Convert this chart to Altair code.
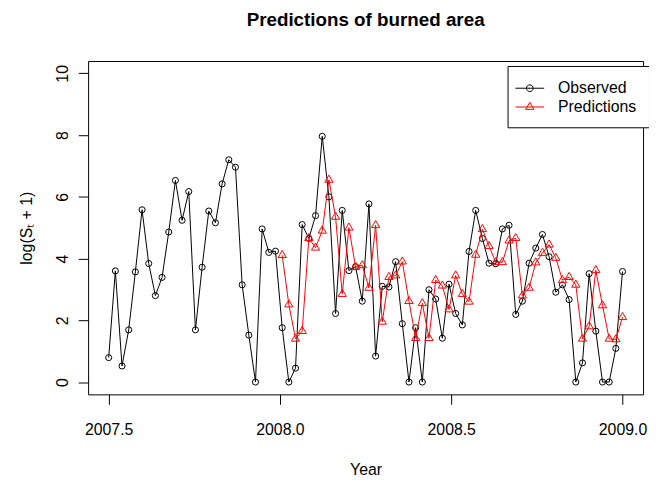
import altair as alt
import pandas as pd

# ---- data ----
obs = [0.79, 3.60, 0.52, 1.69, 3.57, 5.58, 3.84, 2.80, 3.39, 4.86,
       6.53, 5.24, 6.17, 1.69, 3.72, 5.54, 5.16, 6.42, 7.20, 6.96,
       3.15, 1.52, 0.00, 4.96, 4.20, 4.24, 1.76, 0.00, 0.45, 5.10,
       4.65, 5.39, 7.96, 6.00, 2.22, 5.56, 3.61, 3.74, 2.62, 5.77,
       0.84, 3.10, 3.08, 3.90, 1.89, 0.00, 1.76, 0.00, 2.99, 2.69,
       1.42, 3.17, 2.22, 1.85, 4.23, 5.56, 4.65, 3.85, 3.83, 4.96,
       5.08, 2.19, 2.62, 3.85, 4.34, 4.78, 4.06, 2.91, 3.15, 2.67,
       0.00, 0.62, 3.51, 1.65, 0.00, 0.00, 1.09, 3.58]
pred = [4.11, 2.51, 1.40, 1.65, 4.66, 4.35, 4.90, 6.55, 5.35, 2.85,
        5.00, 3.72, 3.78, 3.05, 5.08, 1.95, 3.40, 3.45, 3.90, 2.62,
        1.42, 2.55, 1.42, 3.30, 3.12, 2.35, 3.45, 2.85, 2.60, 4.12,
        4.95, 4.40, 3.88, 3.88, 4.58, 4.66, 2.80, 3.05, 3.87, 4.18,
        4.45, 4.02, 3.30, 3.40, 3.15, 1.40, 1.80, 3.62, 2.48, 1.40,
        1.38, 2.10]
pred_start = 26
start_year = 2007.5
end_year = 2009.0
series_names = ["Observed", "Predictions"]
series_colors = ["black", "red"]
x_ticks = [2007.5, 2008.0, 2008.5, 2009.0]
y_ticks = [0, 2, 4, 6, 8, 10]

n = len(obs)
years = [start_year + k * (end_year - start_year) / (n - 1) for k in range(n)]
df_obs = pd.DataFrame({"Year": years, "value": obs})
df_pred = pd.DataFrame({"Year": years[pred_start:], "value": pred})
df_leg = pd.DataFrame({"series": series_names})

FONT = "Liberation Sans"
TRI = "M0,-1.155L1,0.577L-1,0.577Z"
LEG_CIRCLE = "M-1.487,0H1.487M-0.349,0A0.349,0.349 0 1,0 0.349,0A0.349,0.349 0 1,0 -0.349,0"
LEG_TRI = "M-1.487,0H1.487M0,-0.491L0.426,0.246L-0.426,0.246Z"

xs = alt.Scale(domain=[2007.44, 2009.06], nice=False, zero=False)
ys = alt.Scale(domain=[-0.4, 10.4], nice=False, zero=False)

xax = alt.Axis(values=x_ticks, format=".1f", title="Year", grid=False, domain=False,
               tickSize=10, tickColor="black", labelColor="black", labelFont=FONT,
               labelFontSize=16, labelPadding=31, labelBaseline="alphabetic",
               titleFont=FONT, titleFontSize=16, titleFontWeight="normal",
               titleColor="black", titlePadding=24)
yax = alt.Axis(values=y_ticks, title="log(S\u209c + 1)", grid=False, domain=False,
               tickSize=10, tickColor="black", labelColor="black", labelFont=FONT,
               labelFontSize=16, labelAngle=270, labelAlign="center",
               labelBaseline="alphabetic", labelPadding=11,
               titleFont=FONT, titleFontSize=16, titleFontWeight="normal",
               titleColor="black", titlePadding=20)

x_enc = alt.X("Year:Q", scale=xs, axis=xax)
y_enc = alt.Y("value:Q", scale=ys, axis=yax)

obs_line = alt.Chart(df_obs).mark_line(color="black", strokeWidth=1).encode(x=x_enc, y=y_enc)
obs_pts = alt.Chart(df_obs).mark_point(shape="circle", size=38, filled=False,
                                       color="black", strokeWidth=1, opacity=1).encode(x=x_enc, y=y_enc)
pred_line = alt.Chart(df_pred).mark_line(color="red", strokeWidth=1).encode(x=x_enc, y=y_enc)
pred_pts = alt.Chart(df_pred).mark_point(shape=TRI, size=69, filled=False,
                                         color="red", strokeWidth=1, opacity=1).encode(x=x_enc, y=y_enc)

legend = alt.Legend(title=None, orient="none", legendX=424, legendY=5,
                    strokeColor="black", fillColor="white", padding=12,
                    cornerRadius=0, labelFont=FONT, labelFontSize=16,
                    labelColor="black", labelOffset=18, rowPadding=0,
                    symbolSize=380, symbolStrokeWidth=1, symbolOpacity=1,
                    symbolFillColor="transparent")
leg_layer = alt.Chart(df_leg).mark_point(filled=False, opacity=0).encode(
    x=alt.value(0), y=alt.value(0),
    color=alt.Color("series:N", scale=alt.Scale(domain=series_names, range=series_colors), legend=legend),
    shape=alt.Shape("series:N", scale=alt.Scale(domain=series_names, range=[LEG_CIRCLE, LEG_TRI]), legend=legend),
)

chart = alt.layer(obs_line, obs_pts, pred_line, pred_pts, leg_layer).properties(
    width=561, height=337,
    autosize="none",
    padding={"left": 81, "top": 51, "right": 6, "bottom": 88},
    title=alt.TitleParams("Predictions of burned area", font=FONT, fontSize=19,
                          fontWeight="bold", color="black", anchor="middle", offset=30),
    background="white",
).configure_view(stroke="black", strokeWidth=1, fill="white")

chart.save("out.html", embed_options={"renderer": "svg", "actions": False})
